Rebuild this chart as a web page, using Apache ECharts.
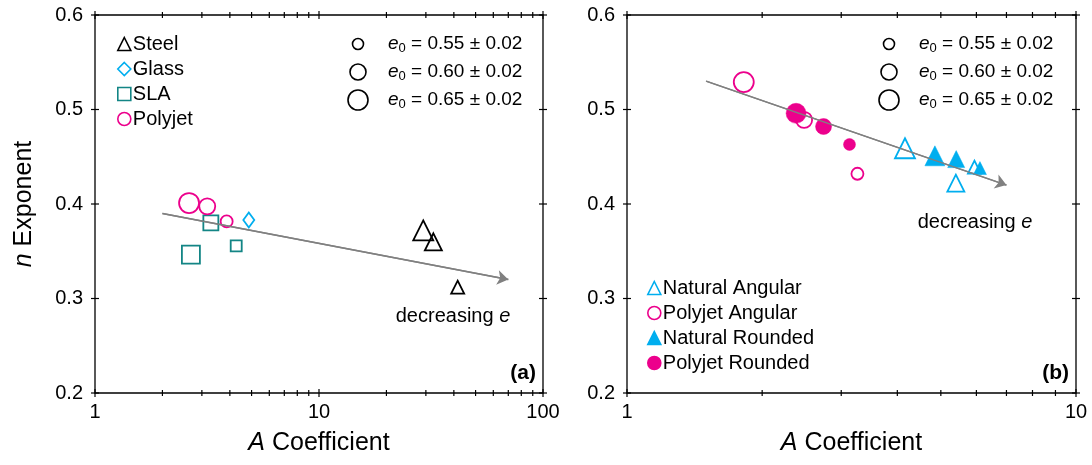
<!DOCTYPE html>
<html>
<head>
<meta charset="utf-8">
<script src="https://cdn.jsdelivr.net/npm/echarts@6/dist/echarts.min.js"></script>
<style>html,body{margin:0;padding:0;background:#fff;}#c{width:1092px;height:465px;}</style>
</head>
<body>
<div id="c"></div>
<script>
// ---------- data: panel (a) ----------
const steelA = [29.2, 32.4, 41.6];
const steelN = [0.372, 0.360, 0.312];
const steelE = [0.65, 0.60, 0.55];
const glassA = [4.86];
const glassN = [0.383];
const glassE = [0.55];
const slaA = [2.68, 3.29, 4.27];
const slaN = [0.3465, 0.380, 0.3557];
const slaE = [0.65, 0.60, 0.55];
const polyA = [2.63, 3.17, 3.87];
const polyN = [0.401, 0.3975, 0.3816];
const polyE = [0.65, 0.60, 0.55];
const arrowA = [[2.0, 0.39], [70, 0.32]];

// ---------- data: panel (b) ----------
const natAngA = [4.16, 5.40, 5.94];
const natAngN = [0.459, 0.422, 0.439];
const natAngE = [0.65, 0.60, 0.55];
const polyAngA = [1.82, 2.48, 3.26];
const polyAngN = [0.529, 0.489, 0.432];
const polyAngE = [0.65, 0.60, 0.55];
const natRndA = [4.85, 5.41, 6.11];
const natRndN = [0.451, 0.4475, 0.438];
const natRndE = [0.65, 0.60, 0.55];
const polyRndA = [2.38, 2.74, 3.13];
const polyRndN = [0.496, 0.482, 0.463];
const polyRndE = [0.65, 0.60, 0.55];
const arrowB = [[1.5, 0.53], [7.0, 0.42]];

// ---------- ticks / legend text ----------
const yTicks = [0.2, 0.3, 0.4, 0.5, 0.6];
const xMajorA = [1, 10, 100];
const xMinorA = [2, 3, 4, 5, 6, 7, 8, 9, 20, 30, 40, 50, 60, 70, 80, 90];
const xMajorB = [1, 10];
const xMinorB = [2, 3, 4, 5, 6, 7, 8, 9];
const e0Levels = ['0.55', '0.60', '0.65'];

const FONT = '"Liberation Sans", Arial, sans-serif';
const CYAN = '#00AEEF', MAG = '#EC008C', TEAL = '#138585', BLACK = '#000000', GREY = '#808080';

const sizeMap = {
  circle: {0.55: 12, 0.60: 16, 0.65: 20},
  rect: {0.55: 11, 0.60: 15, 0.65: 18},
  triangle: {0.55: 13, 0.60: 17, 0.65: 20},
  diamond: {0.55: [11, 15], 0.60: [11, 15], 0.65: [13, 18]}
};

function pts(xs, ys, es, sym) {
  return xs.map((x, i) => ({value: [x, ys[i]], symbolSize: sizeMap[sym][es[i]]}));
}

function scatter(name, xs, ys, es, sym, color, filled, gi) {
  return {
    name: name, type: 'scatter', xAxisIndex: gi, yAxisIndex: gi, z: 3,
    symbol: sym,
    data: pts(xs, ys, es, sym),
    itemStyle: filled ? {color: color, borderColor: color, borderWidth: 0.5, opacity: 1}
                      : {color: 'rgba(0,0,0,0)', borderColor: color, borderWidth: 1.8, opacity: 1},
    emphasis: {disabled: true}
  };
}

function arrowSeries(arr, gi) {
  return {
    type: 'line', xAxisIndex: gi, yAxisIndex: gi, z: 1, silent: true,
    data: arr, symbol: 'none', showSymbol: false,
    lineStyle: {color: GREY, width: 1.5},
    markLine: {
      silent: true, animation: false,
      symbol: ['none', 'arrow'], symbolSize: 11, symbolOffset: 0,
      lineStyle: {color: GREY, width: 1.5, type: 'solid'},
      label: {show: false},
      data: [[{coord: arr[0]}, {coord: arr[1]}]]
    }
  };
}

function tickData(xMaj, xMin) {
  const d = [];
  xMaj.forEach(v => d.push([v, 0.4, 0]));
  xMin.forEach(v => d.push([v, 0.4, 1]));
  yTicks.forEach(v => d.push([2, v, 2]));
  return d;
}

function tickSeries(xMaj, xMin, gi) {
  return {
    type: 'custom', xAxisIndex: gi, yAxisIndex: gi, silent: true, z: 5, clip: false,
    data: tickData(xMaj, xMin),
    encode: {x: 0, y: 1},
    renderItem: function (params, api) {
      const cs = params.coordSys;
      const kind = api.value(2);
      const p = api.coord([api.value(0), api.value(1)]);
      const st = {stroke: '#000', lineWidth: 1.2};
      let lines;
      if (kind < 2) {
        const L = kind === 0 ? 4 : 3;
        const yb = cs.y + cs.height, yt = cs.y;
        lines = [[p[0], yb - L, p[0], yb + L], [p[0], yt - L, p[0], yt + L]];
      } else {
        const xl = cs.x, xr = cs.x + cs.width;
        lines = [[xl - 4, p[1], xl + 4, p[1]], [xr - 4, p[1], xr + 4, p[1]]];
      }
      return {
        type: 'group',
        children: lines.map(l => ({type: 'line', shape: {x1: l[0], y1: l[1], x2: l[2], y2: l[3]}, style: st}))
      };
    }
  };
}

function xAx(gi, max) {
  return {
    type: 'log', logBase: 10, gridIndex: gi, min: 1, max: max,
    axisLine: {show: false}, axisTick: {show: false}, splitLine: {show: false},
    axisLabel: {color: '#000', fontSize: 20, fontFamily: FONT, margin: 9},
    name: '{i|A} Coefficient', nameLocation: 'middle', nameGap: 38,
    nameTextStyle: {color: '#000', fontSize: 25, fontFamily: FONT,
      rich: {i: {fontStyle: 'italic', fontSize: 25, fontFamily: FONT, color: '#000'}}}
  };
}

function yAx(gi, withName) {
  const a = {
    type: 'value', gridIndex: gi, min: 0.2, max: 0.6, interval: 0.1,
    axisLine: {show: false}, axisTick: {show: false}, splitLine: {show: false},
    axisLabel: {color: '#000', fontSize: 20, fontFamily: FONT, margin: 12,
      formatter: v => v.toFixed(1)}
  };
  if (withName) {
    a.name = '{i|n} Exponent';
    a.nameLocation = 'middle';
    a.nameGap = 58;
    a.nameTextStyle = {color: '#000', fontSize: 25, fontFamily: FONT,
      rich: {i: {fontStyle: 'italic', fontSize: 25, fontFamily: FONT, color: '#000'}}};
  }
  return a;
}

function sizeLegend(cx, tx) {
  const rows = [44, 72, 100];
  const radii = [5.5, 8, 10];
  const els = [];
  rows.forEach((y, i) => {
    els.push({type: 'circle', shape: {cx: cx, cy: y, r: radii[i]},
      style: {fill: 'none', stroke: '#000', lineWidth: 1.6}, silent: true});
    els.push({type: 'text', x: tx, y: y, silent: true,
      style: {text: '{i|e}{s|0} = ' + e0Levels[i] + ' \u00B1 0.02',
        fontSize: 19, fontFamily: FONT, fill: '#000', verticalAlign: 'middle', align: 'left',
        rich: {i: {fontStyle: 'italic', fontSize: 19, fontFamily: FONT},
               s: {fontSize: 13, fontFamily: FONT, padding: [9, 0, 0, 0]}}}});
  });
  return els;
}

function legend(names, left, top) {
  return {
    orient: 'vertical', left: left, top: top, selectedMode: false,
    data: names, itemWidth: 13, itemHeight: 13, itemGap: 5,
    textStyle: {color: '#000', fontSize: 20, fontFamily: FONT, padding: [0, 0, 0, -3], lineHeight: 20},
    itemStyle: {borderWidth: 1.6, opacity: 1}
  };
}

const chart = echarts.init(document.getElementById('c'), null, {renderer: 'canvas'});
const option = {
  animation: false,
  backgroundColor: '#fff',
  grid: [
    {left: 95, top: 15, width: 448, height: 378, show: true, borderColor: '#000', borderWidth: 1.3, backgroundColor: 'transparent'},
    {left: 627, top: 15, width: 449, height: 378, show: true, borderColor: '#000', borderWidth: 1.3, backgroundColor: 'transparent'}
  ],
  xAxis: [xAx(0, 100), xAx(1, 10)],
  yAxis: [yAx(0, true), yAx(1, false)],
  legend: [
    legend(['Steel', 'Glass', 'SLA', 'Polyjet'], 112, 29),
    legend(['Natural Angular', 'Polyjet Angular', 'Natural Rounded', 'Polyjet Rounded'], 642, 273)
  ],
  series: [
    arrowSeries(arrowA, 0),
    arrowSeries(arrowB, 1),
    scatter('Steel', steelA, steelN, steelE, 'triangle', BLACK, false, 0),
    scatter('Glass', glassA, glassN, glassE, 'diamond', CYAN, false, 0),
    scatter('SLA', slaA, slaN, slaE, 'rect', TEAL, false, 0),
    scatter('Polyjet', polyA, polyN, polyE, 'circle', MAG, false, 0),
    scatter('Natural Angular', natAngA, natAngN, natAngE, 'triangle', CYAN, false, 1),
    scatter('Polyjet Angular', polyAngA, polyAngN, polyAngE, 'circle', MAG, false, 1),
    scatter('Natural Rounded', natRndA, natRndN, natRndE, 'triangle', CYAN, true, 1),
    scatter('Polyjet Rounded', polyRndA, polyRndN, polyRndE, 'circle', MAG, true, 1),
    tickSeries(xMajorA, xMinorA, 0),
    tickSeries(xMajorB, xMinorB, 1)
  ],
  graphic: [].concat(
    sizeLegend(358, 388),
    sizeLegend(889, 919),
    [
      {type: 'text', x: 453, y: 316, silent: true,
        style: {text: 'decreasing {i|e}', fontSize: 20, fontFamily: FONT, fill: '#000', align: 'center', verticalAlign: 'middle',
          rich: {i: {fontStyle: 'italic', fontSize: 20, fontFamily: FONT}}}},
      {type: 'text', x: 975, y: 222, silent: true,
        style: {text: 'decreasing {i|e}', fontSize: 20, fontFamily: FONT, fill: '#000', align: 'center', verticalAlign: 'middle',
          rich: {i: {fontStyle: 'italic', fontSize: 20, fontFamily: FONT}}}},
      {type: 'text', x: 536, y: 373, silent: true,
        style: {text: '(a)', fontSize: 21, fontWeight: 'bold', fontFamily: FONT, fill: '#000', align: 'right', verticalAlign: 'middle'}},
      {type: 'text', x: 1069, y: 373, silent: true,
        style: {text: '(b)', fontSize: 21, fontWeight: 'bold', fontFamily: FONT, fill: '#000', align: 'right', verticalAlign: 'middle'}}
    ]
  )
};
chart.setOption(option);
</script>
</body>
</html>
